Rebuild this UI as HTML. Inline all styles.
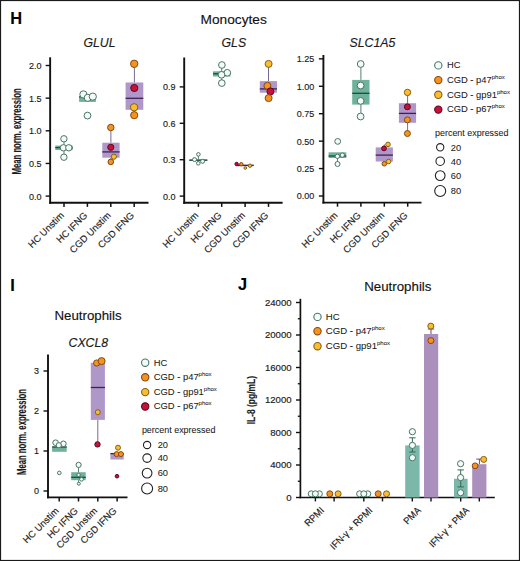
<!DOCTYPE html>
<html><head><meta charset="utf-8"><title>Figure</title>
<style>
html,body{margin:0;padding:0;background:#fff;}
body{width:520px;height:561px;overflow:hidden;font-family:"Liberation Sans", sans-serif;}
svg{display:block;}
text{stroke:#1a1a1a;stroke-width:0.15px;} tspan{stroke-width:0.05px;} .lg{stroke-width:0.06px;}
</style></head><body>
<svg width="520" height="561" viewBox="0 0 520 561" font-family='"Liberation Sans", sans-serif'>
<rect x="0" y="0" width="520" height="561" fill="#fff"/>
<text x="10.3" y="23.8" font-size="16.4" text-anchor="start" font-weight="bold" font-style="normal" fill="#000" >H</text>
<text x="200.6" y="24.2" font-size="13.7" text-anchor="start" font-weight="normal" font-style="normal" fill="#111" >Monocytes</text>
<text x="83.4" y="47.4" font-size="12.3" text-anchor="start" font-weight="normal" font-style="italic" fill="#1a1a1a" >GLUL</text>
<line x1="50.15" y1="57.3" x2="50.15" y2="203.75" stroke="#111" stroke-width="1.9"/>
<line x1="45.65" y1="196.1" x2="50.15" y2="196.1" stroke="#111" stroke-width="1.4"/>
<text x="41.6" y="199.54999999999998" font-size="9.8" text-anchor="end" font-weight="normal" font-style="normal" fill="#1a1a1a" textLength="12.53" lengthAdjust="spacingAndGlyphs" >0.0</text>
<line x1="45.65" y1="163.45" x2="50.15" y2="163.45" stroke="#111" stroke-width="1.4"/>
<text x="41.6" y="166.89999999999998" font-size="9.8" text-anchor="end" font-weight="normal" font-style="normal" fill="#1a1a1a" textLength="12.53" lengthAdjust="spacingAndGlyphs" >0.5</text>
<line x1="45.65" y1="130.8" x2="50.15" y2="130.8" stroke="#111" stroke-width="1.4"/>
<text x="41.6" y="134.25" font-size="9.8" text-anchor="end" font-weight="normal" font-style="normal" fill="#1a1a1a" textLength="12.53" lengthAdjust="spacingAndGlyphs" >1.0</text>
<line x1="45.65" y1="98.15" x2="50.15" y2="98.15" stroke="#111" stroke-width="1.4"/>
<text x="41.6" y="101.60000000000001" font-size="9.8" text-anchor="end" font-weight="normal" font-style="normal" fill="#1a1a1a" textLength="12.53" lengthAdjust="spacingAndGlyphs" >1.5</text>
<line x1="45.65" y1="65.5" x2="50.15" y2="65.5" stroke="#111" stroke-width="1.4"/>
<text x="41.6" y="68.95" font-size="9.8" text-anchor="end" font-weight="normal" font-style="normal" fill="#1a1a1a" textLength="12.53" lengthAdjust="spacingAndGlyphs" >2.0</text>
<line x1="49.199999999999996" y1="202.8" x2="148.5" y2="202.8" stroke="#111" stroke-width="1.9"/>
<line x1="64" y1="202.8" x2="64" y2="206.9" stroke="#111" stroke-width="1.5"/>
<line x1="87.4" y1="202.8" x2="87.4" y2="206.9" stroke="#111" stroke-width="1.5"/>
<line x1="110.8" y1="202.8" x2="110.8" y2="206.9" stroke="#111" stroke-width="1.5"/>
<line x1="134.2" y1="202.8" x2="134.2" y2="206.9" stroke="#111" stroke-width="1.5"/>
<line x1="64" y1="138.8" x2="64" y2="145.6" stroke="#57806f" stroke-width="1.0"/>
<line x1="64" y1="150.0" x2="64" y2="157.2" stroke="#57806f" stroke-width="1.0"/>
<rect x="55.3" y="145.6" width="17.400000000000006" height="4.400000000000006" fill="#6eb29c"/>
<line x1="55.3" y1="147.6" x2="72.7" y2="147.6" stroke="#164e3f" stroke-width="1.3"/>
<circle cx="63.9" cy="138.8" r="3.20" fill="#f1fcf8" stroke="#4d7268" stroke-width="1.0"/>
<circle cx="63.4" cy="147.8" r="3.20" fill="#f1fcf8" stroke="#4d7268" stroke-width="1.0"/>
<circle cx="68.8" cy="147.8" r="3.20" fill="#f1fcf8" stroke="#4d7268" stroke-width="1.0"/>
<circle cx="63.9" cy="157.2" r="3.20" fill="#f1fcf8" stroke="#4d7268" stroke-width="1.0"/>
<rect x="79.1" y="96.3" width="16.80000000000001" height="5.6000000000000085" fill="#6eb29c"/>
<line x1="79.1" y1="96.9" x2="95.9" y2="96.9" stroke="#164e3f" stroke-width="1.3"/>
<circle cx="83.4" cy="94.4" r="3.60" fill="#f1fcf8" stroke="#4d7268" stroke-width="1.0"/>
<circle cx="87.8" cy="97.8" r="3.60" fill="#f1fcf8" stroke="#4d7268" stroke-width="1.0"/>
<circle cx="92.8" cy="96.6" r="3.60" fill="#f1fcf8" stroke="#4d7268" stroke-width="1.0"/>
<circle cx="87.5" cy="115.6" r="3.40" fill="#f1fcf8" stroke="#4d7268" stroke-width="1.0"/>
<line x1="110.9" y1="127.6" x2="110.9" y2="142.7" stroke="#7a6890" stroke-width="1.0"/>
<line x1="110.9" y1="157.7" x2="110.9" y2="161.5" stroke="#7a6890" stroke-width="1.0"/>
<rect x="102.3" y="142.7" width="17.299999999999997" height="15.0" fill="#b097c9"/>
<line x1="102.3" y1="151.9" x2="119.6" y2="151.9" stroke="#3f2157" stroke-width="1.3"/>
<circle cx="110.8" cy="127.5" r="3.25" fill="#f59320" stroke="#844a12" stroke-width="1.0"/>
<circle cx="110.8" cy="147.3" r="3.10" fill="#c6123a" stroke="#5e0820" stroke-width="1.0"/>
<circle cx="110.8" cy="161.9" r="2.80" fill="#f59320" stroke="#844a12" stroke-width="1.0"/>
<circle cx="113.9" cy="156.7" r="2.60" fill="#f9bd33" stroke="#866016" stroke-width="1.0"/>
<line x1="134.4" y1="64" x2="134.4" y2="82.5" stroke="#7a6890" stroke-width="1.0"/>
<line x1="134.4" y1="109.8" x2="134.4" y2="115.2" stroke="#7a6890" stroke-width="1.0"/>
<rect x="125.6" y="82.5" width="17.700000000000017" height="27.299999999999997" fill="#b097c9"/>
<line x1="125.6" y1="98.3" x2="143.3" y2="98.3" stroke="#3f2157" stroke-width="1.3"/>
<circle cx="134.2" cy="63.8" r="3.70" fill="#f59320" stroke="#844a12" stroke-width="1.0"/>
<circle cx="134.3" cy="88.0" r="3.60" fill="#c6123a" stroke="#5e0820" stroke-width="1.0"/>
<circle cx="134.2" cy="115.2" r="3.60" fill="#f59320" stroke="#844a12" stroke-width="1.0"/>
<circle cx="134.1" cy="107.3" r="3.70" fill="#f9bd33" stroke="#866016" stroke-width="1.0"/>
<text transform="translate(64.5,216.0) rotate(-45)" font-size="9.5" text-anchor="end" font-weight="normal" fill="#1a1a1a">HC Unstim</text>
<text transform="translate(87.9,216.0) rotate(-45)" font-size="9.5" text-anchor="end" font-weight="normal" fill="#1a1a1a">HC IFNG</text>
<text transform="translate(111.3,216.0) rotate(-45)" font-size="9.5" text-anchor="end" font-weight="normal" fill="#1a1a1a">CGD Unstim</text>
<text transform="translate(134.7,216.0) rotate(-45)" font-size="9.5" text-anchor="end" font-weight="normal" fill="#1a1a1a">CGD IFNG</text>
<text transform="translate(20.5,174.4) rotate(-90)" font-size="12.3" font-weight="bold" fill="#1a1a1a" textLength="86" lengthAdjust="spacingAndGlyphs">Mean norm. expression</text>
<text x="221.5" y="47.2" font-size="12.3" text-anchor="start" font-weight="normal" font-style="italic" fill="#1a1a1a" >GLS</text>
<line x1="184.2" y1="57.5" x2="184.2" y2="203.75" stroke="#111" stroke-width="1.9"/>
<line x1="179.7" y1="196.1" x2="184.2" y2="196.1" stroke="#111" stroke-width="1.4"/>
<text x="175.6" y="199.54999999999998" font-size="9.8" text-anchor="end" font-weight="normal" font-style="normal" fill="#1a1a1a" textLength="12.53" lengthAdjust="spacingAndGlyphs" >0.0</text>
<line x1="179.7" y1="159.701" x2="184.2" y2="159.701" stroke="#111" stroke-width="1.4"/>
<text x="175.6" y="163.15099999999998" font-size="9.8" text-anchor="end" font-weight="normal" font-style="normal" fill="#1a1a1a" textLength="12.53" lengthAdjust="spacingAndGlyphs" >0.3</text>
<line x1="179.7" y1="123.30199999999999" x2="184.2" y2="123.30199999999999" stroke="#111" stroke-width="1.4"/>
<text x="175.6" y="126.752" font-size="9.8" text-anchor="end" font-weight="normal" font-style="normal" fill="#1a1a1a" textLength="12.53" lengthAdjust="spacingAndGlyphs" >0.6</text>
<line x1="179.7" y1="86.90299999999999" x2="184.2" y2="86.90299999999999" stroke="#111" stroke-width="1.4"/>
<text x="175.6" y="90.353" font-size="9.8" text-anchor="end" font-weight="normal" font-style="normal" fill="#1a1a1a" textLength="12.53" lengthAdjust="spacingAndGlyphs" >0.9</text>
<line x1="183.25" y1="202.8" x2="282.6" y2="202.8" stroke="#111" stroke-width="1.9"/>
<line x1="198.4" y1="202.8" x2="198.4" y2="206.9" stroke="#111" stroke-width="1.5"/>
<line x1="221.7" y1="202.8" x2="221.7" y2="206.9" stroke="#111" stroke-width="1.5"/>
<line x1="245.1" y1="202.8" x2="245.1" y2="206.9" stroke="#111" stroke-width="1.5"/>
<line x1="268.5" y1="202.8" x2="268.5" y2="206.9" stroke="#111" stroke-width="1.5"/>
<line x1="198.4" y1="154.4" x2="198.4" y2="159.3" stroke="#57806f" stroke-width="1.0"/>
<line x1="198.4" y1="161.0" x2="198.4" y2="163.3" stroke="#57806f" stroke-width="1.0"/>
<rect x="189.3" y="159.3" width="18.0" height="1.6999999999999886" fill="#6eb29c"/>
<line x1="189.3" y1="160.2" x2="207.3" y2="160.2" stroke="#164e3f" stroke-width="1.3"/>
<circle cx="198.4" cy="154.4" r="1.80" fill="#f1fcf8" stroke="#4d7268" stroke-width="1.0"/>
<circle cx="194.5" cy="159.6" r="2.00" fill="#f1fcf8" stroke="#4d7268" stroke-width="1.0"/>
<circle cx="202.6" cy="161.3" r="2.00" fill="#f1fcf8" stroke="#4d7268" stroke-width="1.0"/>
<circle cx="198.3" cy="163.3" r="1.80" fill="#f1fcf8" stroke="#4d7268" stroke-width="1.0"/>
<line x1="221.7" y1="65" x2="221.7" y2="71.3" stroke="#57806f" stroke-width="1.0"/>
<line x1="221.7" y1="76.5" x2="221.7" y2="83.1" stroke="#57806f" stroke-width="1.0"/>
<rect x="213.0" y="71.3" width="17.400000000000006" height="5.200000000000003" fill="#6eb29c"/>
<line x1="213.0" y1="73.8" x2="230.4" y2="73.8" stroke="#164e3f" stroke-width="1.3"/>
<circle cx="221.9" cy="65" r="3.35" fill="#f1fcf8" stroke="#4d7268" stroke-width="1.0"/>
<circle cx="227.3" cy="72.8" r="3.35" fill="#f1fcf8" stroke="#4d7268" stroke-width="1.0"/>
<circle cx="221.5" cy="74.8" r="3.35" fill="#f1fcf8" stroke="#4d7268" stroke-width="1.0"/>
<circle cx="221.8" cy="83.1" r="3.35" fill="#f1fcf8" stroke="#4d7268" stroke-width="1.0"/>
<rect x="236.5" y="164.6" width="17.19999999999999" height="1.5999999999999943" fill="#b097c9"/>
<line x1="236.5" y1="165.4" x2="253.7" y2="165.4" stroke="#3f2157" stroke-width="1.3"/>
<circle cx="236.6" cy="164.0" r="1.70" fill="#c6123a" stroke="#5e0820" stroke-width="1.0"/>
<circle cx="241.3" cy="164.2" r="1.70" fill="#f59320" stroke="#844a12" stroke-width="1.0"/>
<circle cx="245.3" cy="168.0" r="1.30" fill="#f9bd33" stroke="#866016" stroke-width="1.0"/>
<circle cx="250.0" cy="165.7" r="1.70" fill="#f9bd33" stroke="#866016" stroke-width="1.0"/>
<line x1="268.5" y1="63.9" x2="268.5" y2="81.1" stroke="#7a6890" stroke-width="1.0"/>
<line x1="268.5" y1="92.7" x2="268.5" y2="98.1" stroke="#7a6890" stroke-width="1.0"/>
<rect x="259.8" y="81.1" width="17.19999999999999" height="11.600000000000009" fill="#b097c9"/>
<line x1="259.8" y1="88.9" x2="277.0" y2="88.9" stroke="#3f2157" stroke-width="1.3"/>
<circle cx="268.6" cy="63.9" r="3.50" fill="#f9bd33" stroke="#866016" stroke-width="1.0"/>
<circle cx="267.4" cy="85.8" r="3.50" fill="#f59320" stroke="#844a12" stroke-width="1.0"/>
<circle cx="270.4" cy="91.4" r="3.50" fill="#c6123a" stroke="#5e0820" stroke-width="1.0"/>
<circle cx="268.6" cy="98.1" r="3.50" fill="#f59320" stroke="#844a12" stroke-width="1.0"/>
<text transform="translate(198.9,216.0) rotate(-45)" font-size="9.5" text-anchor="end" font-weight="normal" fill="#1a1a1a">HC Unstim</text>
<text transform="translate(222.2,216.0) rotate(-45)" font-size="9.5" text-anchor="end" font-weight="normal" fill="#1a1a1a">HC IFNG</text>
<text transform="translate(245.6,216.0) rotate(-45)" font-size="9.5" text-anchor="end" font-weight="normal" fill="#1a1a1a">CGD Unstim</text>
<text transform="translate(269.0,216.0) rotate(-45)" font-size="9.5" text-anchor="end" font-weight="normal" fill="#1a1a1a">CGD IFNG</text>
<text x="349.5" y="47.2" font-size="12.3" text-anchor="start" font-weight="normal" font-style="italic" fill="#1a1a1a" >SLC1A5</text>
<line x1="323.4" y1="55.0" x2="323.4" y2="203.54999999999998" stroke="#111" stroke-width="1.9"/>
<line x1="318.9" y1="196.0" x2="323.4" y2="196.0" stroke="#111" stroke-width="1.4"/>
<text x="314.3" y="199.45" font-size="9.8" text-anchor="end" font-weight="normal" font-style="normal" fill="#1a1a1a" textLength="17.55" lengthAdjust="spacingAndGlyphs" >0.00</text>
<line x1="318.9" y1="168.57" x2="323.4" y2="168.57" stroke="#111" stroke-width="1.4"/>
<text x="314.3" y="172.01999999999998" font-size="9.8" text-anchor="end" font-weight="normal" font-style="normal" fill="#1a1a1a" textLength="17.55" lengthAdjust="spacingAndGlyphs" >0.25</text>
<line x1="318.9" y1="141.14" x2="323.4" y2="141.14" stroke="#111" stroke-width="1.4"/>
<text x="314.3" y="144.58999999999997" font-size="9.8" text-anchor="end" font-weight="normal" font-style="normal" fill="#1a1a1a" textLength="17.55" lengthAdjust="spacingAndGlyphs" >0.50</text>
<line x1="318.9" y1="113.71000000000001" x2="323.4" y2="113.71000000000001" stroke="#111" stroke-width="1.4"/>
<text x="314.3" y="117.16000000000001" font-size="9.8" text-anchor="end" font-weight="normal" font-style="normal" fill="#1a1a1a" textLength="17.55" lengthAdjust="spacingAndGlyphs" >0.75</text>
<line x1="318.9" y1="86.28" x2="323.4" y2="86.28" stroke="#111" stroke-width="1.4"/>
<text x="314.3" y="89.73" font-size="9.8" text-anchor="end" font-weight="normal" font-style="normal" fill="#1a1a1a" textLength="17.55" lengthAdjust="spacingAndGlyphs" >1.00</text>
<line x1="318.9" y1="58.849999999999994" x2="323.4" y2="58.849999999999994" stroke="#111" stroke-width="1.4"/>
<text x="314.3" y="62.3" font-size="9.8" text-anchor="end" font-weight="normal" font-style="normal" fill="#1a1a1a" textLength="17.55" lengthAdjust="spacingAndGlyphs" >1.25</text>
<line x1="322.45" y1="202.6" x2="421.5" y2="202.6" stroke="#111" stroke-width="1.9"/>
<line x1="337.5" y1="202.6" x2="337.5" y2="206.7" stroke="#111" stroke-width="1.5"/>
<line x1="360.9" y1="202.6" x2="360.9" y2="206.7" stroke="#111" stroke-width="1.5"/>
<line x1="384.3" y1="202.6" x2="384.3" y2="206.7" stroke="#111" stroke-width="1.5"/>
<line x1="407.7" y1="202.6" x2="407.7" y2="206.7" stroke="#111" stroke-width="1.5"/>
<line x1="337.5" y1="158.0" x2="337.5" y2="164.0" stroke="#57806f" stroke-width="1.0"/>
<rect x="328.6" y="152.3" width="17.69999999999999" height="5.699999999999989" fill="#6eb29c"/>
<line x1="328.6" y1="156.0" x2="346.3" y2="156.0" stroke="#164e3f" stroke-width="1.3"/>
<circle cx="337.7" cy="141.4" r="2.90" fill="#f1fcf8" stroke="#4d7268" stroke-width="1.0"/>
<circle cx="337.4" cy="156.3" r="2.20" fill="#f1fcf8" stroke="#4d7268" stroke-width="1.0"/>
<circle cx="342.3" cy="155.1" r="2.20" fill="#f1fcf8" stroke="#4d7268" stroke-width="1.0"/>
<circle cx="337.5" cy="164.0" r="2.50" fill="#f1fcf8" stroke="#4d7268" stroke-width="1.0"/>
<line x1="360.9" y1="64" x2="360.9" y2="79.9" stroke="#57806f" stroke-width="1.0"/>
<line x1="360.9" y1="104.6" x2="360.9" y2="116.5" stroke="#57806f" stroke-width="1.0"/>
<rect x="352.2" y="79.9" width="17.30000000000001" height="24.69999999999999" fill="#6eb29c"/>
<line x1="352.2" y1="93.3" x2="369.5" y2="93.3" stroke="#164e3f" stroke-width="1.3"/>
<circle cx="360.7" cy="64.0" r="3.40" fill="#f1fcf8" stroke="#4d7268" stroke-width="1.0"/>
<circle cx="360.6" cy="85.5" r="3.40" fill="#f1fcf8" stroke="#4d7268" stroke-width="1.0"/>
<circle cx="360.6" cy="100.9" r="3.40" fill="#f1fcf8" stroke="#4d7268" stroke-width="1.0"/>
<circle cx="360.6" cy="116.5" r="3.40" fill="#f1fcf8" stroke="#4d7268" stroke-width="1.0"/>
<line x1="384.3" y1="144.4" x2="384.3" y2="147.4" stroke="#7a6890" stroke-width="1.0"/>
<line x1="384.3" y1="161.5" x2="384.3" y2="163.7" stroke="#7a6890" stroke-width="1.0"/>
<rect x="375.7" y="147.4" width="17.19999999999999" height="14.099999999999994" fill="#b097c9"/>
<line x1="375.7" y1="155.1" x2="392.9" y2="155.1" stroke="#3f2157" stroke-width="1.3"/>
<circle cx="388.0" cy="144.4" r="2.30" fill="#f9bd33" stroke="#866016" stroke-width="1.0"/>
<circle cx="384.0" cy="148.4" r="2.40" fill="#c6123a" stroke="#5e0820" stroke-width="1.0"/>
<circle cx="384.3" cy="163.7" r="2.30" fill="#f59320" stroke="#844a12" stroke-width="1.0"/>
<circle cx="388.6" cy="161.5" r="2.30" fill="#f9bd33" stroke="#866016" stroke-width="1.0"/>
<line x1="407.6" y1="92.4" x2="407.6" y2="103.2" stroke="#7a6890" stroke-width="1.0"/>
<line x1="407.6" y1="122.8" x2="407.6" y2="133.5" stroke="#7a6890" stroke-width="1.0"/>
<rect x="398.9" y="103.2" width="17.200000000000045" height="19.599999999999994" fill="#b097c9"/>
<line x1="398.9" y1="113.4" x2="416.1" y2="113.4" stroke="#3f2157" stroke-width="1.3"/>
<circle cx="407.5" cy="92.4" r="3.20" fill="#f9bd33" stroke="#866016" stroke-width="1.0"/>
<circle cx="407.4" cy="106.8" r="3.00" fill="#c6123a" stroke="#5e0820" stroke-width="1.0"/>
<circle cx="407.4" cy="119.8" r="3.00" fill="#f59320" stroke="#844a12" stroke-width="1.0"/>
<circle cx="407.4" cy="133.5" r="3.00" fill="#f59320" stroke="#844a12" stroke-width="1.0"/>
<text transform="translate(338.0,216.0) rotate(-45)" font-size="9.5" text-anchor="end" font-weight="normal" fill="#1a1a1a">HC Unstim</text>
<text transform="translate(361.4,216.0) rotate(-45)" font-size="9.5" text-anchor="end" font-weight="normal" fill="#1a1a1a">HC IFNG</text>
<text transform="translate(384.8,216.0) rotate(-45)" font-size="9.5" text-anchor="end" font-weight="normal" fill="#1a1a1a">CGD Unstim</text>
<text transform="translate(408.2,216.0) rotate(-45)" font-size="9.5" text-anchor="end" font-weight="normal" fill="#1a1a1a">CGD IFNG</text>
<circle cx="438.3" cy="65.4" r="3.65" fill="#f1fcf8" stroke="#4d7268" stroke-width="1.1"/>
<text x="446.9" y="68.2" font-size="9.4" text-anchor="start" font-weight="normal" font-style="normal" fill="#1a1a1a" class="lg">HC</text>
<circle cx="438.3" cy="80.1" r="3.65" fill="#f59320" stroke="#844a12" stroke-width="1.1"/>
<text class="lg" x="446.9" y="82.89999999999999" font-size="9.4" fill="#1a1a1a">CGD - p47<tspan font-size="6.0" dy="-4.0">phox</tspan></text>
<circle cx="438.3" cy="94.8" r="3.65" fill="#f9bd33" stroke="#866016" stroke-width="1.1"/>
<text class="lg" x="446.9" y="97.6" font-size="9.4" fill="#1a1a1a">CGD - gp91<tspan font-size="6.0" dy="-4.0">phox</tspan></text>
<circle cx="438.3" cy="109.6" r="3.65" fill="#c6123a" stroke="#5e0820" stroke-width="1.1"/>
<text class="lg" x="446.9" y="112.39999999999999" font-size="9.4" fill="#1a1a1a">CGD - p67<tspan font-size="6.0" dy="-4.0">phox</tspan></text>
<text x="435.0" y="135.8" font-size="9.3" text-anchor="start" font-weight="normal" font-style="normal" fill="#1a1a1a" textLength="73.5" lengthAdjust="spacingAndGlyphs" class="lg">percent expressed</text>
<circle cx="440.2" cy="147.3" r="3.65" fill="none" stroke="#222" stroke-width="1.1"/>
<text x="450.8" y="150.60000000000002" font-size="9.3" text-anchor="start" font-weight="normal" font-style="normal" fill="#1a1a1a" class="lg">20</text>
<circle cx="440.2" cy="161.2" r="4.25" fill="none" stroke="#222" stroke-width="1.1"/>
<text x="450.8" y="164.5" font-size="9.3" text-anchor="start" font-weight="normal" font-style="normal" fill="#1a1a1a" class="lg">40</text>
<circle cx="440.2" cy="175.6" r="4.85" fill="none" stroke="#222" stroke-width="1.1"/>
<text x="450.8" y="178.9" font-size="9.3" text-anchor="start" font-weight="normal" font-style="normal" fill="#1a1a1a" class="lg">60</text>
<circle cx="440.2" cy="191.0" r="5.5" fill="none" stroke="#222" stroke-width="1.1"/>
<text x="450.8" y="194.3" font-size="9.3" text-anchor="start" font-weight="normal" font-style="normal" fill="#1a1a1a" class="lg">80</text>
<text x="10.3" y="290.8" font-size="16.4" text-anchor="start" font-weight="bold" font-style="normal" fill="#000" >I</text>
<text x="54.4" y="320.0" font-size="13.3" text-anchor="start" font-weight="normal" font-style="normal" fill="#111" >Neutrophils</text>
<text x="68.5" y="346.9" font-size="12.3" text-anchor="start" font-weight="normal" font-style="italic" fill="#1a1a1a" >CXCL8</text>
<line x1="48.0" y1="354.4" x2="48.0" y2="498.34999999999997" stroke="#111" stroke-width="1.9"/>
<line x1="43.5" y1="491.0" x2="48.0" y2="491.0" stroke="#111" stroke-width="1.4"/>
<text x="39.0" y="494.45" font-size="9.8" text-anchor="end" font-weight="normal" font-style="normal" fill="#1a1a1a" textLength="5.01" lengthAdjust="spacingAndGlyphs" >0</text>
<line x1="43.5" y1="451.0" x2="48.0" y2="451.0" stroke="#111" stroke-width="1.4"/>
<text x="39.0" y="454.45" font-size="9.8" text-anchor="end" font-weight="normal" font-style="normal" fill="#1a1a1a" textLength="5.01" lengthAdjust="spacingAndGlyphs" >1</text>
<line x1="43.5" y1="411.0" x2="48.0" y2="411.0" stroke="#111" stroke-width="1.4"/>
<text x="39.0" y="414.45" font-size="9.8" text-anchor="end" font-weight="normal" font-style="normal" fill="#1a1a1a" textLength="5.01" lengthAdjust="spacingAndGlyphs" >2</text>
<line x1="43.5" y1="371.0" x2="48.0" y2="371.0" stroke="#111" stroke-width="1.4"/>
<text x="39.0" y="374.45" font-size="9.8" text-anchor="end" font-weight="normal" font-style="normal" fill="#1a1a1a" textLength="5.01" lengthAdjust="spacingAndGlyphs" >3</text>
<line x1="47.05" y1="497.4" x2="127.5" y2="497.4" stroke="#111" stroke-width="1.9"/>
<line x1="59.2" y1="497.4" x2="59.2" y2="501.5" stroke="#111" stroke-width="1.5"/>
<line x1="78.5" y1="497.4" x2="78.5" y2="501.5" stroke="#111" stroke-width="1.5"/>
<line x1="97.8" y1="497.4" x2="97.8" y2="501.5" stroke="#111" stroke-width="1.5"/>
<line x1="117.1" y1="497.4" x2="117.1" y2="501.5" stroke="#111" stroke-width="1.5"/>
<rect x="52.1" y="446.6" width="14.600000000000001" height="5.199999999999989" fill="#6eb29c"/>
<line x1="52.1" y1="447.0" x2="66.7" y2="447.0" stroke="#164e3f" stroke-width="1.3"/>
<circle cx="55.6" cy="442.7" r="2.80" fill="#f1fcf8" stroke="#4d7268" stroke-width="1.0"/>
<circle cx="63.4" cy="443.8" r="2.80" fill="#f1fcf8" stroke="#4d7268" stroke-width="1.0"/>
<circle cx="58.8" cy="445.2" r="2.60" fill="#f1fcf8" stroke="#4d7268" stroke-width="1.0"/>
<circle cx="59.3" cy="472.9" r="1.80" fill="#f1fcf8" stroke="#4d7268" stroke-width="1.0"/>
<line x1="78.5" y1="464.9" x2="78.5" y2="472.2" stroke="#57806f" stroke-width="1.0"/>
<line x1="78.5" y1="480.2" x2="78.5" y2="483.7" stroke="#57806f" stroke-width="1.0"/>
<rect x="71.2" y="472.2" width="14.5" height="8.0" fill="#6eb29c"/>
<line x1="71.2" y1="477.3" x2="85.7" y2="477.3" stroke="#164e3f" stroke-width="1.3"/>
<circle cx="78.6" cy="464.9" r="2.60" fill="#f1fcf8" stroke="#4d7268" stroke-width="1.0"/>
<circle cx="78.6" cy="474.9" r="1.70" fill="#f1fcf8" stroke="#4d7268" stroke-width="1.0"/>
<circle cx="81.5" cy="479.3" r="1.90" fill="#f1fcf8" stroke="#4d7268" stroke-width="1.0"/>
<circle cx="78.8" cy="483.7" r="1.50" fill="#f1fcf8" stroke="#4d7268" stroke-width="1.0"/>
<line x1="97.8" y1="419.9" x2="97.8" y2="444.4" stroke="#7a6890" stroke-width="1.0"/>
<rect x="90.8" y="362.8" width="14.100000000000009" height="57.099999999999966" fill="#b097c9"/>
<line x1="90.8" y1="387.5" x2="104.9" y2="387.5" stroke="#3f2157" stroke-width="1.3"/>
<circle cx="97.5" cy="444.4" r="2.70" fill="#c6123a" stroke="#5e0820" stroke-width="1.0"/>
<circle cx="97.8" cy="412.2" r="2.50" fill="#f9bd33" stroke="#866016" stroke-width="1.0"/>
<circle cx="96.7" cy="363.0" r="3.10" fill="#f59320" stroke="#844a12" stroke-width="1.0"/>
<circle cx="101.6" cy="361.1" r="3.50" fill="#f59320" stroke="#844a12" stroke-width="1.0"/>
<rect x="110.4" y="453.0" width="13.299999999999997" height="6.5" fill="#b097c9"/>
<line x1="110.4" y1="453.6" x2="123.7" y2="453.6" stroke="#3f2157" stroke-width="1.3"/>
<circle cx="118.0" cy="447.7" r="2.50" fill="#f9bd33" stroke="#866016" stroke-width="1.0"/>
<circle cx="116.6" cy="454.1" r="2.50" fill="#f59320" stroke="#844a12" stroke-width="1.0"/>
<circle cx="120.9" cy="454.1" r="2.50" fill="#f59320" stroke="#844a12" stroke-width="1.0"/>
<circle cx="117.0" cy="476.2" r="1.80" fill="#c6123a" stroke="#5e0820" stroke-width="1.0"/>
<text transform="translate(59.300000000000004,511.4) rotate(-45)" font-size="9.5" text-anchor="end" font-weight="normal" fill="#1a1a1a">HC Unstim</text>
<text transform="translate(78.6,511.4) rotate(-45)" font-size="9.5" text-anchor="end" font-weight="normal" fill="#1a1a1a">HC IFNG</text>
<text transform="translate(97.89999999999999,511.4) rotate(-45)" font-size="9.5" text-anchor="end" font-weight="normal" fill="#1a1a1a">CGD Unstim</text>
<text transform="translate(117.19999999999999,511.4) rotate(-45)" font-size="9.5" text-anchor="end" font-weight="normal" fill="#1a1a1a">CGD IFNG</text>
<text transform="translate(26.1,475.0) rotate(-90)" font-size="12.3" font-weight="bold" fill="#1a1a1a" textLength="86" lengthAdjust="spacingAndGlyphs">Mean norm. expression</text>
<circle cx="145.2" cy="362.7" r="3.65" fill="#f1fcf8" stroke="#4d7268" stroke-width="1.1"/>
<text x="153.8" y="365.5" font-size="9.4" text-anchor="start" font-weight="normal" font-style="normal" fill="#1a1a1a" class="lg">HC</text>
<circle cx="145.2" cy="377.3" r="3.65" fill="#f59320" stroke="#844a12" stroke-width="1.1"/>
<text class="lg" x="153.8" y="380.1" font-size="9.4" fill="#1a1a1a">CGD - p47<tspan font-size="6.0" dy="-4.0">phox</tspan></text>
<circle cx="145.2" cy="392.1" r="3.65" fill="#f9bd33" stroke="#866016" stroke-width="1.1"/>
<text class="lg" x="153.8" y="394.90000000000003" font-size="9.4" fill="#1a1a1a">CGD - gp91<tspan font-size="6.0" dy="-4.0">phox</tspan></text>
<circle cx="145.2" cy="406.5" r="3.65" fill="#c6123a" stroke="#5e0820" stroke-width="1.1"/>
<text class="lg" x="153.8" y="409.3" font-size="9.4" fill="#1a1a1a">CGD - p67<tspan font-size="6.0" dy="-4.0">phox</tspan></text>
<text x="141.9" y="432.7" font-size="9.3" text-anchor="start" font-weight="normal" font-style="normal" fill="#1a1a1a" textLength="73.5" lengthAdjust="spacingAndGlyphs" class="lg">percent expressed</text>
<circle cx="147.1" cy="445.0" r="3.65" fill="none" stroke="#222" stroke-width="1.1"/>
<text x="157.7" y="448.3" font-size="9.3" text-anchor="start" font-weight="normal" font-style="normal" fill="#1a1a1a" class="lg">20</text>
<circle cx="147.1" cy="458.1" r="4.25" fill="none" stroke="#222" stroke-width="1.1"/>
<text x="157.7" y="461.40000000000003" font-size="9.3" text-anchor="start" font-weight="normal" font-style="normal" fill="#1a1a1a" class="lg">40</text>
<circle cx="147.1" cy="473.1" r="4.85" fill="none" stroke="#222" stroke-width="1.1"/>
<text x="157.7" y="476.40000000000003" font-size="9.3" text-anchor="start" font-weight="normal" font-style="normal" fill="#1a1a1a" class="lg">60</text>
<circle cx="147.1" cy="488.5" r="5.5" fill="none" stroke="#222" stroke-width="1.1"/>
<text x="157.7" y="491.8" font-size="9.3" text-anchor="start" font-weight="normal" font-style="normal" fill="#1a1a1a" class="lg">80</text>
<text x="238.0" y="290.3" font-size="16.4" text-anchor="start" font-weight="bold" font-style="normal" fill="#000" >J</text>
<text x="364.2" y="290.8" font-size="13.3" text-anchor="start" font-weight="normal" font-style="normal" fill="#111" >Neutrophils</text>
<line x1="300.4" y1="298.8" x2="300.4" y2="498.2" stroke="#111" stroke-width="1.7"/>
<line x1="296.0" y1="497.5" x2="300.4" y2="497.5" stroke="#111" stroke-width="1.4"/>
<text x="291.6" y="500.9" font-size="9.6" text-anchor="end" font-weight="normal" font-style="normal" fill="#1a1a1a" >0</text>
<line x1="297.8" y1="481.25" x2="300.4" y2="481.25" stroke="#111" stroke-width="1.3"/>
<line x1="296.0" y1="465.0" x2="300.4" y2="465.0" stroke="#111" stroke-width="1.4"/>
<text x="291.6" y="468.4" font-size="9.6" text-anchor="end" font-weight="normal" font-style="normal" fill="#1a1a1a" >4000</text>
<line x1="297.8" y1="448.75" x2="300.4" y2="448.75" stroke="#111" stroke-width="1.3"/>
<line x1="296.0" y1="432.5" x2="300.4" y2="432.5" stroke="#111" stroke-width="1.4"/>
<text x="291.6" y="435.9" font-size="9.6" text-anchor="end" font-weight="normal" font-style="normal" fill="#1a1a1a" >8000</text>
<line x1="297.8" y1="416.25" x2="300.4" y2="416.25" stroke="#111" stroke-width="1.3"/>
<line x1="296.0" y1="400.0" x2="300.4" y2="400.0" stroke="#111" stroke-width="1.4"/>
<text x="291.6" y="403.4" font-size="9.6" text-anchor="end" font-weight="normal" font-style="normal" fill="#1a1a1a" >12000</text>
<line x1="297.8" y1="383.75" x2="300.4" y2="383.75" stroke="#111" stroke-width="1.3"/>
<line x1="296.0" y1="367.5" x2="300.4" y2="367.5" stroke="#111" stroke-width="1.4"/>
<text x="291.6" y="370.9" font-size="9.6" text-anchor="end" font-weight="normal" font-style="normal" fill="#1a1a1a" >16000</text>
<line x1="297.8" y1="351.25" x2="300.4" y2="351.25" stroke="#111" stroke-width="1.3"/>
<line x1="296.0" y1="335.0" x2="300.4" y2="335.0" stroke="#111" stroke-width="1.4"/>
<text x="291.6" y="338.4" font-size="9.6" text-anchor="end" font-weight="normal" font-style="normal" fill="#1a1a1a" >20000</text>
<line x1="297.8" y1="318.75" x2="300.4" y2="318.75" stroke="#111" stroke-width="1.3"/>
<line x1="296.0" y1="302.5" x2="300.4" y2="302.5" stroke="#111" stroke-width="1.4"/>
<text x="291.6" y="305.9" font-size="9.6" text-anchor="end" font-weight="normal" font-style="normal" fill="#1a1a1a" >24000</text>
<line x1="299.55" y1="497.5" x2="494.8" y2="497.5" stroke="#111" stroke-width="1.5"/>
<line x1="315.4" y1="497.5" x2="315.4" y2="501.4" stroke="#111" stroke-width="1.4"/>
<line x1="363.8" y1="497.5" x2="363.8" y2="501.4" stroke="#111" stroke-width="1.4"/>
<line x1="412.3" y1="497.5" x2="412.3" y2="501.4" stroke="#111" stroke-width="1.4"/>
<line x1="460.7" y1="497.5" x2="460.7" y2="501.4" stroke="#111" stroke-width="1.4"/>
<line x1="334.1" y1="497.5" x2="334.1" y2="501.4" stroke="#111" stroke-width="1.4"/>
<line x1="382.5" y1="497.5" x2="382.5" y2="501.4" stroke="#111" stroke-width="1.4"/>
<line x1="431.0" y1="497.5" x2="431.0" y2="501.4" stroke="#111" stroke-width="1.4"/>
<line x1="479.3" y1="497.5" x2="479.3" y2="501.4" stroke="#111" stroke-width="1.4"/>
<rect x="405.2" y="445.4" width="14.4" height="52.10000000000002" fill="#7cb8a9"/>
<rect x="424.0" y="334.0" width="14.2" height="163.5" fill="#ab8fbc"/>
<rect x="454.0" y="478.8" width="13.6" height="18.69999999999999" fill="#7cb8a9"/>
<rect x="472.2" y="464.2" width="14.2" height="33.30000000000001" fill="#ab8fbc"/>
<line x1="412.4" y1="437.8" x2="412.4" y2="452.0" stroke="#2f6a5a" stroke-width="1.0"/>
<line x1="409.2" y1="437.8" x2="415.59999999999997" y2="437.8" stroke="#2f6a5a" stroke-width="1.0"/>
<line x1="409.2" y1="452.0" x2="415.59999999999997" y2="452.0" stroke="#2f6a5a" stroke-width="1.0"/>
<line x1="460.7" y1="469.9" x2="460.7" y2="486.9" stroke="#2f6a5a" stroke-width="1.0"/>
<line x1="457.5" y1="469.9" x2="463.9" y2="469.9" stroke="#2f6a5a" stroke-width="1.0"/>
<line x1="457.5" y1="486.9" x2="463.9" y2="486.9" stroke="#2f6a5a" stroke-width="1.0"/>
<line x1="431.0" y1="329.0" x2="431.0" y2="334.0" stroke="#6b4a86" stroke-width="1.0"/>
<line x1="427.8" y1="329.0" x2="434.2" y2="329.0" stroke="#6b4a86" stroke-width="1.0"/>
<line x1="479.4" y1="459.1" x2="479.4" y2="464.2" stroke="#6b4a86" stroke-width="1.0"/>
<line x1="476.2" y1="459.1" x2="482.59999999999997" y2="459.1" stroke="#6b4a86" stroke-width="1.0"/>
<circle cx="311.2" cy="493.8" r="3.00" fill="#f1fcf8" stroke="#4d7268" stroke-width="1.0"/>
<circle cx="319.4" cy="493.8" r="3.00" fill="#f1fcf8" stroke="#4d7268" stroke-width="1.0"/>
<circle cx="315.4" cy="493.8" r="3.00" fill="#f1fcf8" stroke="#4d7268" stroke-width="1.0"/>
<circle cx="359.6" cy="493.8" r="3.00" fill="#f1fcf8" stroke="#4d7268" stroke-width="1.0"/>
<circle cx="367.8" cy="493.8" r="3.00" fill="#f1fcf8" stroke="#4d7268" stroke-width="1.0"/>
<circle cx="363.8" cy="493.8" r="3.00" fill="#f1fcf8" stroke="#4d7268" stroke-width="1.0"/>
<circle cx="329.8" cy="493.8" r="3.00" fill="#f59320" stroke="#844a12" stroke-width="1.0"/>
<circle cx="338.1" cy="493.8" r="3.00" fill="#f9bd33" stroke="#866016" stroke-width="1.0"/>
<circle cx="378.2" cy="493.8" r="3.00" fill="#f59320" stroke="#844a12" stroke-width="1.0"/>
<circle cx="386.5" cy="493.8" r="3.00" fill="#f9bd33" stroke="#866016" stroke-width="1.0"/>
<circle cx="412.4" cy="431.7" r="3.10" fill="#f1fcf8" stroke="#4d7268" stroke-width="1.0"/>
<circle cx="412.4" cy="445.4" r="3.10" fill="#f1fcf8" stroke="#4d7268" stroke-width="1.0"/>
<circle cx="412.4" cy="457.7" r="3.10" fill="#f1fcf8" stroke="#4d7268" stroke-width="1.0"/>
<circle cx="430.8" cy="326.1" r="3.00" fill="#f9bd33" stroke="#866016" stroke-width="1.0"/>
<circle cx="430.9" cy="340.6" r="3.00" fill="#f59320" stroke="#844a12" stroke-width="1.0"/>
<circle cx="460.6" cy="463.7" r="3.10" fill="#f1fcf8" stroke="#4d7268" stroke-width="1.0"/>
<circle cx="460.6" cy="477.6" r="3.10" fill="#f1fcf8" stroke="#4d7268" stroke-width="1.0"/>
<circle cx="460.6" cy="492.7" r="3.10" fill="#f1fcf8" stroke="#4d7268" stroke-width="1.0"/>
<circle cx="475.1" cy="465.8" r="2.90" fill="#f59320" stroke="#844a12" stroke-width="1.0"/>
<circle cx="483.7" cy="459.4" r="3.00" fill="#f9bd33" stroke="#866016" stroke-width="1.0"/>
<text transform="translate(324.7,511.0) rotate(-45)" font-size="9.9" text-anchor="end" font-weight="normal" fill="#1a1a1a" textLength="22.75" lengthAdjust="spacingAndGlyphs">RPMI</text>
<text transform="translate(373.09999999999997,511.0) rotate(-45)" font-size="9.9" text-anchor="end" font-weight="normal" fill="#1a1a1a" textLength="55.36" lengthAdjust="spacingAndGlyphs">IFN-γ + RPMI</text>
<text transform="translate(421.5,511.0) rotate(-45)" font-size="9.9" text-anchor="end" font-weight="normal" fill="#1a1a1a" textLength="19.72" lengthAdjust="spacingAndGlyphs">PMA</text>
<text transform="translate(469.9,511.0) rotate(-45)" font-size="9.9" text-anchor="end" font-weight="normal" fill="#1a1a1a" textLength="52.33" lengthAdjust="spacingAndGlyphs">IFN-γ + PMA</text>
<text transform="translate(255.2,424.3) rotate(-90)" font-size="11" font-weight="bold" fill="#1a1a1a" textLength="48.3" lengthAdjust="spacingAndGlyphs">IL-8 (pg/mL)</text>
<circle cx="317.5" cy="316.9" r="3.65" fill="#f1fcf8" stroke="#4d7268" stroke-width="1.1"/>
<text x="325.8" y="319.7" font-size="9.6" text-anchor="start" font-weight="normal" font-style="normal" fill="#1a1a1a" class="lg">HC</text>
<circle cx="317.5" cy="331.2" r="3.65" fill="#f59320" stroke="#844a12" stroke-width="1.1"/>
<text class="lg" x="325.8" y="334.0" font-size="9.6" fill="#1a1a1a">CGD - p47<tspan font-size="6.0" dy="-4.0">phox</tspan></text>
<circle cx="317.5" cy="346.2" r="3.65" fill="#f9bd33" stroke="#866016" stroke-width="1.1"/>
<text class="lg" x="325.8" y="349.0" font-size="9.6" fill="#1a1a1a">CGD - gp91<tspan font-size="6.0" dy="-4.0">phox</tspan></text>
<rect x="0.5" y="0.5" width="519" height="560" fill="none" stroke="#1a1a1a" stroke-width="1.2"/>
</svg>
</body></html>
